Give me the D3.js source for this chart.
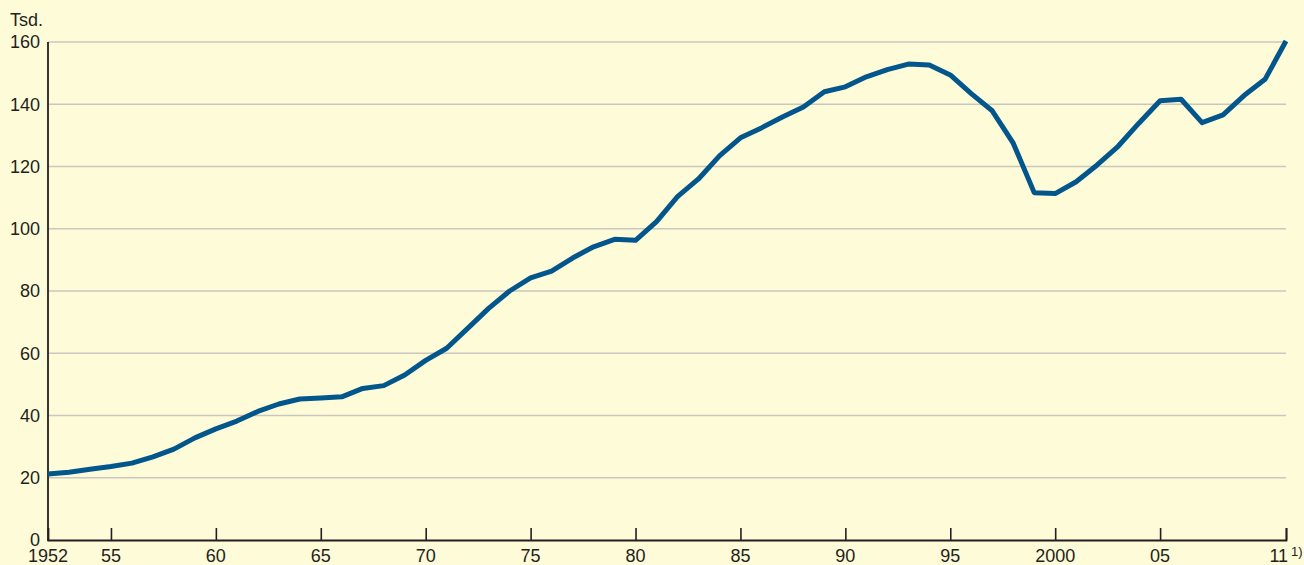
<!DOCTYPE html>
<html>
<head>
<meta charset="utf-8">
<script src="https://cdn.jsdelivr.net/npm/d3@7"></script>
<style>
  body { margin: 0; background: #fefbd9; }
  svg { display: block; font-family: "Liberation Sans", Arial, sans-serif; }
</style>
</head>
<body>
<svg class="chart" width="1304" height="565"></svg>
<script>
// years 1952 - 2011, values in thousands
let years = d3.range(1952, 2012)
let values = [
  21.2, 21.8, 22.7, 23.6, 24.7, 26.7, 29.2, 32.8, 35.7, 38.2,
  41.3, 43.7, 45.3, 45.6, 46.0, 48.7, 49.6, 53.0, 57.7, 61.6,
  68.0, 74.4, 80.0, 84.2, 86.4, 90.6, 94.2, 96.6, 96.3, 102.3,
  110.3, 116.0, 123.4, 129.2, 132.4, 135.9, 139.1, 144.0, 145.6, 148.8,
  151.1, 152.9, 152.6, 149.4, 143.4, 137.9, 127.5, 111.6, 111.3, 115.1,
  120.5, 126.5, 134.0, 141.1, 141.6, 134.1, 136.6, 142.8, 148.0, 160.3
]
let yTicks = [0, 20, 40, 60, 80, 100, 120, 140, 160]
let xTicks = [1955, 1960, 1965, 1970, 1975, 1980, 1985, 1990, 1995, 2000, 2005, 2011]
let xLabels = { 1952: '1952', 2000: '2000' }

let data = years.map((y, i) => ({ year: y, value: values[i] }))

let margin = { top: 42, right: 18, bottom: 25, left: 48 }
let width = 1304 - margin.left - margin.right
let height = 565 - margin.top - margin.bottom

let svg = d3.select('.chart')
let g = svg.append('g')
  .attr('transform', 'translate(' + margin.left + ',' + margin.top + ')')

let x = d3.scaleLinear().domain([1952, 2011]).range([0, width])
let y = d3.scaleLinear().domain([0, 160]).range([height, 0])

// grid lines
g.append('g')
  .selectAll('line')
  .data(yTicks.filter(d => d > 0))
  .enter()
  .append('line')
  .attr('x1', 0)
  .attr('x2', width)
  .attr('y1', d => y(d))
  .attr('y2', d => y(d))
  .attr('stroke', '#c9c7c0')
  .attr('stroke-width', 1.3)

// y labels
g.append('g')
  .selectAll('text')
  .data(yTicks)
  .enter()
  .append('text')
  .attr('x', -8)
  .attr('y', d => y(d))
  .attr('dy', '0.35em')
  .attr('text-anchor', 'end')
  .attr('font-size', 18)
  .attr('fill', '#231f20')
  .text(d => d)

svg.append('text')
  .attr('x', 10)
  .attr('y', 26)
  .attr('font-size', 18)
  .attr('fill', '#231f20')
  .text('Tsd.')

// x axis with ticks pointing up
let xAxis = g.append('g')
  .attr('transform', 'translate(0,' + height + ')')
  .call(d3.axisBottom(x).tickValues(xTicks).tickSize(-12).tickFormat(''))
xAxis.select('.domain').attr('stroke', '#231f20').attr('stroke-width', 1.8)
xAxis.selectAll('.tick line').attr('stroke', '#231f20').attr('stroke-width', 1.6)

// y axis line
g.append('line')
  .attr('x1', 0).attr('x2', 0)
  .attr('y1', y(160)).attr('y2', height + 1)
  .attr('stroke', '#231f20')
  .attr('stroke-width', 1.8)

// x labels
let xl = g.append('g')
  .selectAll('text')
  .data([1952].concat(xTicks))
  .enter()
  .append('text')
  .attr('x', d => x(d))
  .attr('y', height + 22)
  .attr('text-anchor', 'middle')
  .attr('font-size', 18)
  .attr('fill', '#231f20')
xl.append('tspan')
  .text(d => xLabels[d] || String(d).slice(2))
xl.filter(d => d === 2011)
  .append('tspan')
  .attr('dx', 3)
  .attr('dy', -6)
  .attr('font-size', 13)
  .text('1)')

// the line
let line = d3.line()
  .x(d => x(d.year))
  .y(d => y(d.value))

g.append('path')
  .datum(data)
  .attr('fill', 'none')
  .attr('stroke', '#02568b')
  .attr('stroke-width', 5)
  .attr('stroke-linejoin', 'round')
  .attr('d', line)
</script>
</body>
</html>
